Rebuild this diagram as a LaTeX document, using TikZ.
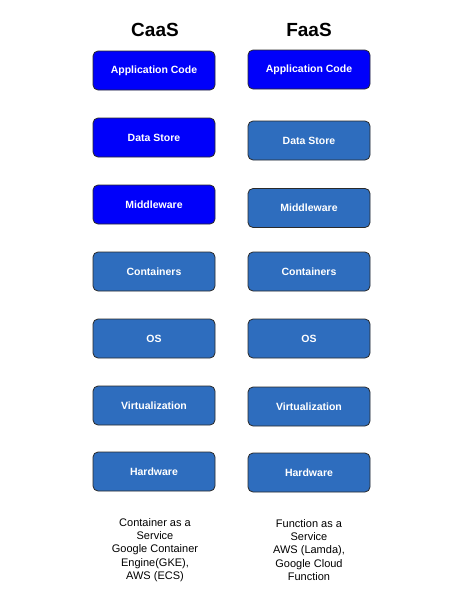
\documentclass[tikz,border=0pt]{standalone}
\usepackage{fontspec}
\setmainfont{Liberation Sans}
\definecolor{brightblue}{HTML}{0000FA}
\definecolor{steelblue}{HTML}{2E6DBE}
\definecolor{edgegray}{HTML}{2A2A2A}

\tikzset{
  layer/.style={draw=edgegray, line width=0.8pt, rounded corners=5pt,
    minimum width=122pt, minimum height=39pt, text=white,
    font=\fontsize{10.5}{12}\selectfont\bfseries},
  own/.style={layer, fill=brightblue},
  managed/.style={layer, fill=steelblue},
  heading/.style={font=\fontsize{19}{22}\selectfont\bfseries},
  note/.style={align=center, font=\fontsize{11}{13.3}\selectfont}
}

\begin{document}
\begin{tikzpicture}[x=1pt,y=-1pt]
    \useasboundingbox[fill=white] (0,0) rectangle (450,603);
    \node[heading] (caas) at (155,30) {CaaS};
    \node[heading] (faas) at (309,30) {FaaS};
    % CaaS stack
    \node[own] (c1) at (154,70.5) {Application Code};
    \node[own] (c2) at (154,137.5) {Data Store};
    \node[own] (c3) at (154,204.5) {Middleware};
    \node[managed] (c4) at (154,271.5) {Containers};
    \node[managed] (c5) at (154,338.5) {OS};
    \node[managed] (c6) at (154,405.5) {Virtualization};
    \node[managed] (c7) at (154,471.5) {Hardware};
    % FaaS stack
    \node[own] (f1) at (309,69.5) {Application Code};
    \node[managed] (f2) at (309,140.5) {Data Store};
    \node[managed] (f3) at (309,208) {Middleware};
    \node[managed] (f4) at (309,271.5) {Containers};
    \node[managed] (f5) at (309,338.5) {OS};
    \node[managed] (f6) at (309,406.5) {Virtualization};
    \node[managed] (f7) at (309,472.5) {Hardware};
    \node[note] (cnote) at (155,550) {Container as a\\Service\\Google Container\\Engine(GKE),\\AWS (ECS)};
    \node[note] (fnote) at (309,550) {Function as a\\Service\\AWS (Lamda),\\Google Cloud\\Function};
\end{tikzpicture}
\end{document}
